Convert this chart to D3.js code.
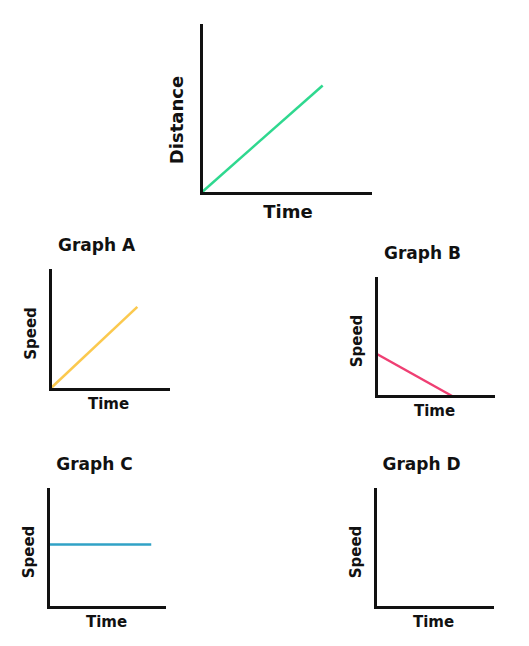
<!DOCTYPE html>
<html>
<head>
<meta charset="utf-8">
<script src="https://cdn.jsdelivr.net/npm/d3@7"></script>
<style>
  body { margin: 0; background: #fff; }
  text { font-family: "DejaVu Sans", Verdana, sans-serif; font-weight: bold; fill: #111; }
</style>
</head>
<body>
<div id="chart"></div>
<script>
const width = 529;
const height = 646;

// panels: title, y label, line colour
const panelNames = ["main", "A", "B", "C", "D"];
const panelTitles = ["", "Graph A", "Graph B", "Graph C", "Graph D"];
const yLabels = ["Distance", "Speed", "Speed", "Speed", "Speed"];
const lineColors = ["#2fd88f", "#fbc94e", "#ef3f73", "#30a2c6", null];

// line points (time, value) in 0..10 units
const mainLine = [[0, 0], [7.2, 6.4]];
const lineA = [[0, 0], [7.4, 6.9]];
const lineB = [[0, 3.6], [6.5, 0]];
const lineC = [[0, 5.3], [8.9, 5.3]];
const lineD = [];
const lines = [mainLine, lineA, lineB, lineC, lineD];

// panel frames in pixels: [left, right, bottom, top]
const frames = [
  [201, 370, 193, 25],
  [50, 168, 389, 270],
  [376, 493, 396, 278],
  [48, 164, 607, 489],
  [375, 492, 607, 489]
];

const svg = d3.select("#chart")
  .append("svg")
  .attr("width", width)
  .attr("height", height);

panelNames.forEach((name, i) => {
  const [left, right, bottom, top] = frames[i];
  const big = i === 0;

  const x = d3.scaleLinear().domain([0, 10]).range([left, right]);
  const y = d3.scaleLinear().domain([0, 10]).range([bottom, top]);

  const g = svg.append("g").attr("class", "panel-" + name);

  // data line
  if (lines[i].length) {
    g.append("path")
      .datum(lines[i])
      .attr("fill", "none")
      .attr("stroke", lineColors[i])
      .attr("stroke-width", 2.5)
      .attr("d", d3.line().x(d => x(d[0])).y(d => y(d[1])));
  }

  // axes without ticks
  g.append("g")
    .attr("transform", `translate(0,${bottom})`)
    .call(d3.axisBottom(x).ticks(0).tickSizeOuter(0))
    .select(".domain")
    .attr("stroke", "#111")
    .attr("stroke-width", 3)
    .attr("stroke-linecap", "square");

  g.append("g")
    .attr("transform", `translate(${left},0)`)
    .call(d3.axisLeft(y).ticks(0).tickSizeOuter(0))
    .select(".domain")
    .attr("stroke", "#111")
    .attr("stroke-width", 3)
    .attr("stroke-linecap", "square");

  // axis labels
  g.append("text")
    .attr("x", big ? 288 : left + 58.5)
    .attr("y", bottom + (big ? 25 : 20))
    .attr("text-anchor", "middle")
    .style("font-size", big ? "18px" : "15px")
    .text("Time");

  g.append("text")
    .attr("transform", `translate(${left - (big ? 18 : 14)},${(top + bottom) / 2 + (big ? 11 : 4)}) rotate(-90)`)
    .attr("text-anchor", "middle")
    .style("font-size", big ? "18px" : "15px")
    .text(yLabels[i]);

  if (panelTitles[i]) {
    g.append("text")
      .attr("x", left + 46.5)
      .attr("y", top - 19)
      .attr("text-anchor", "middle")
      .style("font-size", "17px")
      .text(panelTitles[i]);
  }
});
</script>
</body>
</html>
